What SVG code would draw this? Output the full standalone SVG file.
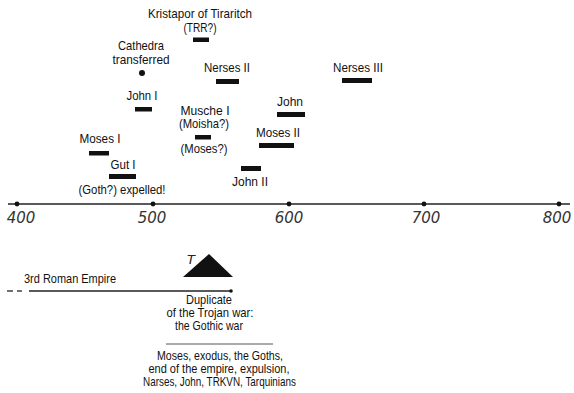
<svg xmlns="http://www.w3.org/2000/svg" width="574" height="393" viewBox="0 0 574 393">
<style>
.t{font-family:"Liberation Sans",Arial,sans-serif;font-size:12.6px;fill:#111;text-anchor:middle}
.y{font-family:"DejaVu Sans","Liberation Sans",sans-serif;font-size:15px;font-style:italic;fill:#333;text-anchor:middle;font-weight:300}
.bar{fill:#111}
.ax{stroke:#222;stroke-width:1.4;fill:none}
.dot{fill:#111}
</style>
<rect width="574" height="393" fill="#fff"/>
<g id="axis">
<line class="ax" x1="8" y1="204" x2="570" y2="204"/>
<circle class="dot" cx="17" cy="204" r="2.4"/>
<circle class="dot" cx="153" cy="204" r="2.4"/>
<circle class="dot" cx="289" cy="204" r="2.4"/>
<circle class="dot" cx="424" cy="204" r="2.4"/>
<circle class="dot" cx="559" cy="204" r="2.4"/>
<text class="y" x="21" y="223">400</text>
<text class="y" x="152" y="223">500</text>
<text class="y" x="289" y="223">600</text>
<text class="y" x="426" y="223">700</text>
<text class="y" x="557" y="223">800</text>
</g>
<g id="kristapor">
<text class="t" x="200" y="18" textLength="104" lengthAdjust="spacingAndGlyphs">Kristapor of Tiraritch</text>
<text class="t" x="200" y="32" textLength="33" lengthAdjust="spacingAndGlyphs">(TRR?)</text>
<rect class="bar" x="193" y="37.5" width="16" height="4.5"/>
</g>
<g id="cathedra">
<text class="t" x="141" y="50" textLength="46" lengthAdjust="spacingAndGlyphs">Cathedra</text>
<text class="t" x="141" y="64" textLength="57" lengthAdjust="spacingAndGlyphs">transferred</text>
<circle class="dot" cx="142" cy="73" r="3"/>
</g>
<g id="nerses2">
<text class="t" x="227" y="72" textLength="46" lengthAdjust="spacingAndGlyphs">Nerses II</text>
<rect class="bar" x="216" y="79" width="23" height="5"/>
</g>
<g id="nerses3">
<text class="t" x="358" y="72" textLength="50" lengthAdjust="spacingAndGlyphs">Nerses III</text>
<rect class="bar" x="342" y="78" width="30" height="5"/>
</g>
<g id="john1">
<text class="t" x="142" y="100" textLength="31" lengthAdjust="spacingAndGlyphs">John I</text>
<rect class="bar" x="135" y="107" width="17" height="4.5"/>
</g>
<g id="john">
<text class="t" x="290" y="106" textLength="26" lengthAdjust="spacingAndGlyphs">John</text>
<rect class="bar" x="277" y="112" width="28" height="5"/>
</g>
<g id="musche1">
<text class="t" x="205" y="115" textLength="49" lengthAdjust="spacingAndGlyphs">Musche I</text>
<text class="t" x="204" y="128" textLength="50" lengthAdjust="spacingAndGlyphs">(Moisha?)</text>
<rect class="bar" x="195" y="135" width="16" height="4.5"/>
<text class="t" x="204" y="153" textLength="47" lengthAdjust="spacingAndGlyphs">(Moses?)</text>
</g>
<g id="moses2">
<text class="t" x="278" y="137" textLength="44" lengthAdjust="spacingAndGlyphs">Moses II</text>
<rect class="bar" x="259" y="143" width="35" height="5"/>
</g>
<g id="moses1">
<text class="t" x="100" y="143" textLength="41" lengthAdjust="spacingAndGlyphs">Moses I</text>
<rect class="bar" x="89" y="151" width="20" height="4.5"/>
</g>
<g id="john2">
<rect class="bar" x="241" y="166" width="20" height="5"/>
<text class="t" x="250" y="186" textLength="36" lengthAdjust="spacingAndGlyphs">John II</text>
</g>
<g id="gut1">
<text class="t" x="123" y="169" textLength="25" lengthAdjust="spacingAndGlyphs">Gut I</text>
<rect class="bar" x="109" y="174" width="27" height="5"/>
<text class="t" x="122" y="194" textLength="87" lengthAdjust="spacingAndGlyphs">(Goth?) expelled!</text>
</g>
<g id="connectors">
<line x1="7" y1="291" x2="13" y2="291" stroke="#222" stroke-width="1.3"/>
<line x1="17" y1="291" x2="22" y2="291" stroke="#222" stroke-width="1.3"/>
<line x1="29" y1="291" x2="231" y2="291" stroke="#222" stroke-width="1.3"/>
<circle class="dot" cx="231" cy="291" r="1.8"/>
<line x1="166" y1="344" x2="273" y2="344" stroke="#444" stroke-width="0.9"/>
</g>
<g id="empire">
<text class="t" x="24" y="283" style="text-anchor:start" textLength="92" lengthAdjust="spacingAndGlyphs">3rd Roman Empire</text>
</g>
<g id="trojan">
<polygon points="209,254 183,277 233,277" fill="#111"/>
<text x="191" y="264" style="font-family:'DejaVu Sans',sans-serif;font-size:13px;font-style:italic;font-weight:300;fill:#222;text-anchor:middle">T</text>
<text class="t" x="209" y="304" textLength="46" lengthAdjust="spacingAndGlyphs">Duplicate</text>
<text class="t" x="210" y="317" textLength="87" lengthAdjust="spacingAndGlyphs">of the Trojan war:</text>
<text class="t" x="209" y="330" textLength="68" lengthAdjust="spacingAndGlyphs">the Gothic war</text>
<text class="t" x="220" y="360" textLength="126" lengthAdjust="spacingAndGlyphs">Moses, exodus, the Goths,</text>
<text class="t" x="219" y="373" textLength="141" lengthAdjust="spacingAndGlyphs">end of the empire, expulsion,</text>
<text class="t" x="219.5" y="386" textLength="153" lengthAdjust="spacingAndGlyphs">Narses, John, TRKVN, Tarquinians</text>
</g>
</svg>
